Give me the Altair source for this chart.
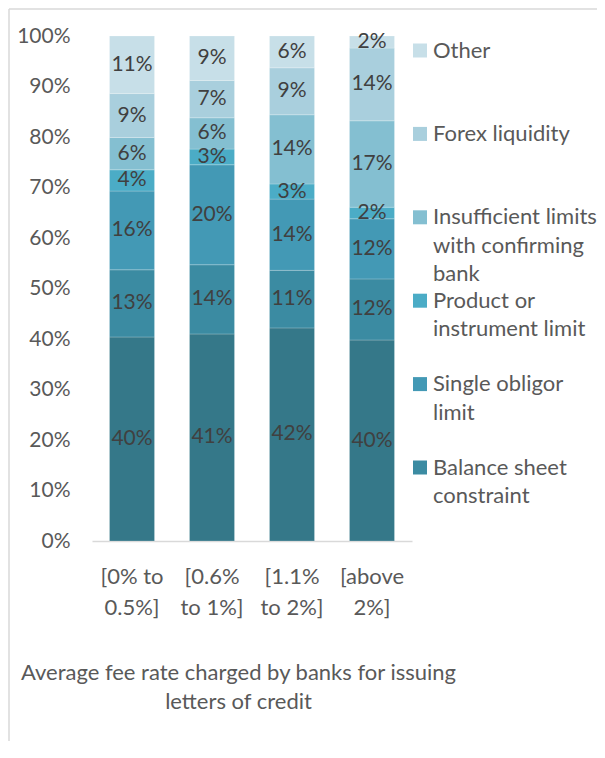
import altair as alt
import pandas as pd

# ---- data ----
categories = ["[0%  to\n0.5%]", "[0.6%\nto 1%]", "[1.1%\nto 2%]", "[above\n2%]"]

series = [
    "Series 7",
    "Balance sheet constraint",
    "Single obligor limit",
    "Product or instrument limit",
    "Insufficient limits with confirming bank",
    "Forex liquidity",
    "Other",
]

s7_values = [40.4, 41.0, 42.2, 39.8]
balance_values = [13.3, 13.7, 11.4, 12.1]
single_values = [15.6, 19.8, 14.1, 11.9]
product_values = [4.2, 3.1, 3.0, 2.3]
insufficient_values = [6.4, 6.2, 13.7, 17.1]
forex_values = [8.7, 7.4, 9.3, 14.4]
other_values = [11.4, 8.8, 6.3, 2.4]

series_values = [s7_values, balance_values, single_values, product_values,
                 insufficient_values, forex_values, other_values]

colors = ["#357889", "#3b8ba2", "#4399b5", "#4bacc6", "#84bfd1", "#a9cfdd", "#c7dfe8"]

# legend (top to bottom), only six entries are shown
legend_series = ["Other", "Forex liquidity", "Insufficient limits with confirming bank",
                 "Product or instrument limit", "Single obligor limit", "Balance sheet constraint"]
legend_text = ["Other", "Forex liquidity", "Insufficient limits\nwith confirming\nbank",
               "Product or\ninstrument limit", "Single obligor\nlimit", "Balance sheet\nconstraint"]

y_ticks = [0, 0.1, 0.2, 0.3, 0.4, 0.5, 0.6, 0.7, 0.8, 0.9, 1.0]
x_title = ["Average fee rate charged by banks for issuing", "letters of credit"]

rows = []
for si, name in enumerate(series):
    for ci, cat in enumerate(categories):
        rows.append({"cat": cat, "series": name, "idx": si, "value": series_values[si][ci]})
df = pd.DataFrame(rows)

legend_df = pd.DataFrame({"series": legend_series, "label": legend_text,
                          "rank": list(range(len(legend_series)))})

FONT = "Lato"
GRAY = "#595959"

color_enc = alt.Color("series:N", scale=alt.Scale(domain=series, range=colors), legend=None)

x_enc = alt.X(
    "cat:N", sort=categories,
    scale=alt.Scale(paddingInner=0.4375, paddingOuter=0.219),
    axis=alt.Axis(
        title=x_title, labelAngle=0, ticks=False, domainColor="#d9d9d9", domainWidth=1.5,
        labelExpr="split(datum.label, '\\n')", labelBaseline="line-top",
        labelLineHeight=31, labelPadding=20, labelFontSize=22, labelFont=FONT,
        labelColor=GRAY, titleFont=FONT, titleFontSize=22, titleFontWeight="normal",
        titleColor=GRAY, titleLineHeight=29, titleX=146, titleY=117,
        titleBaseline="line-top", titleAlign="center",
    ),
)

y_axis = alt.Axis(values=y_ticks, format=".0%", domain=False, ticks=False, grid=False,
                  labelPadding=22, labelFontSize=21, labelFont=FONT, labelColor=GRAY,
                  title=None)

base = alt.Chart(df).transform_stack(
    stack="value", groupby=["cat"], sort=[alt.SortField("idx", order="ascending")],
    as_=["v0", "v1"],
).transform_calculate(
    y0="datum.v0 / 100", y1="datum.v1 / 100", mid="(datum.v0 + datum.v1) / 200",
    lbl="format(datum.value / 100, '.0%')",
)

bars = base.mark_bar(stroke="white", strokeWidth=0.6, strokeOpacity=0.35).encode(
    x=x_enc,
    y=alt.Y("y0:Q", scale=alt.Scale(domain=[0, 1]), axis=y_axis),
    y2="y1:Q",
    color=color_enc,
)

labels = base.mark_text(font=FONT, fontSize=21, color="#404040", baseline="middle").encode(
    x=x_enc,
    y=alt.Y("mid:Q", scale=alt.Scale(domain=[0, 1]), axis=y_axis),
    text="lbl:N",
)

legend_sym = alt.Chart(legend_df).mark_square(size=196, opacity=1, filled=True).encode(
    x=alt.value(328),
    y=alt.Y("rank:O", scale=alt.Scale(type="point", range=[14.5, 431.5], padding=0), axis=None),
    color=alt.Color("series:N", scale=alt.Scale(domain=series, range=colors), legend=None),
)

legend_lbl = alt.Chart(legend_df).mark_text(
    font=FONT, fontSize=22, color=GRAY, align="left", baseline="line-top",
    lineHeight=28.5, lineBreak="\n", dy=-14,
).encode(
    x=alt.value(341),
    y=alt.Y("rank:O", scale=alt.Scale(type="point", range=[14.5, 431.5], padding=0), axis=None),
    text="label:N",
)

frame_df = pd.DataFrame({"k": [0]})
frame_top = alt.Chart(frame_df).mark_rule(color="#d9d9d9", strokeWidth=1.5).encode(
    x=alt.value(-83), x2=alt.value(600), y=alt.value(-27),
)
frame_left = alt.Chart(frame_df).mark_rule(color="#d9d9d9", strokeWidth=1.5).encode(
    x=alt.value(-83), y=alt.value(-27), y2=alt.value(800),
)

main = alt.layer(bars, labels)
legend = alt.layer(legend_sym, legend_lbl)

chart = alt.layer(main, legend, frame_top, frame_left).resolve_scale(
    y="independent"
).properties(
    width=320, height=505,
    autosize=alt.AutoSizeParams(type="none"),
    padding={"left": 84, "top": 28, "right": 185, "bottom": 200},
).configure_view(stroke=None)

chart.save("out.html", embed_options={"renderer": "svg", "actions": False})
